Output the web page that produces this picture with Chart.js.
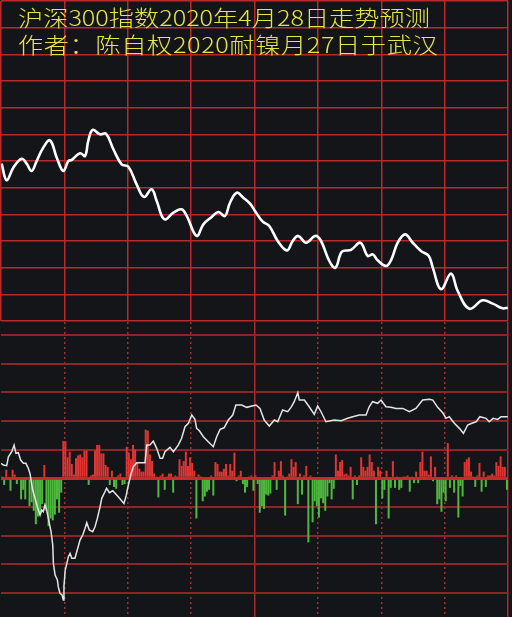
<!DOCTYPE html>
<html><head><meta charset="utf-8">
<script src="https://cdn.jsdelivr.net/npm/chart.js@4/dist/chart.umd.min.js"></script>
<style>
html,body{margin:0;padding:0;background:#141518;width:512px;height:617px;overflow:hidden}
#wrap{position:relative;width:512px;height:617px}
canvas{position:absolute;left:0}
#c1{top:0}
#c2{top:322px}
.title{position:absolute;left:18px;font-family:"Noto Sans CJK SC";font-weight:300;font-size:22px;line-height:26.7px;color:#e6e64a;white-space:nowrap;transform:scaleX(1.145);transform-origin:0 0}
</style></head><body>
<div id="wrap">
<canvas id="c1" width="512" height="322"></canvas>
<canvas id="c2" width="512" height="295"></canvas>
<div class="title" style="top:3px">沪深300指数2020年4月28日走势预测</div>
<div class="title" style="top:29.7px;letter-spacing:0.55px">作者：陈自权2020耐镍月27日于武汉</div>
</div>
<script>
// Upper panel: forecast index line (minutes from open, index level)
const upT = [0.3,2.7,5.8,9.8,12.2,14.5,16.9,20.0,23.2,26.4,29.5,31.9,33.5,37.4,39.8,41.3,43.4,46.9,49.7,53.2,57.1,60.3,64.2,67.7,71.3,73.7,77.3,81.6,85.5,87.9,92.6,95.8,99.7,102.9,106.0,108.4,111.6,114.7,117.9,120.7,123.9,127.0,131.0,135.3,138.1,140.7,144.4,148.8,151.5,155.4,158.3,161.4,165.7,170.1,173.6,176.0,178.3,182.3,184.6,187.8,191.3,194.9,198.8,202.5,204.4,208.3,213.0,216.2,221.7,228.0,232.8,237.5,239.9];
const upV = [3818.0,3805.5,3815.0,3821.7,3817.8,3812.5,3820.0,3830.0,3835.5,3822.5,3812.5,3820.0,3820.8,3825.8,3823.8,3835.0,3843.3,3840.0,3840.5,3828.8,3817.5,3815.7,3802.5,3793.0,3798.8,3790.0,3776.3,3781.2,3783.8,3778.8,3763.8,3772.5,3778.0,3781.8,3778.8,3788.7,3796.2,3792.5,3788.0,3781.4,3774.5,3771.3,3760.0,3753.0,3760.0,3763.8,3758.7,3763.8,3760.0,3745.0,3740.0,3752.0,3753.3,3758.7,3748.8,3750.0,3745.5,3741.3,3745.5,3758.7,3765.0,3758.7,3752.5,3748.8,3740.0,3723.8,3735.5,3722.5,3709.2,3715.5,3713.0,3709.5,3710.0];

// Lower panel: indicator line
const lowT = [0,1.1,2.7,3.5,5.1,6.2,7.1,8.2,9.3,10.6,11.8,12.9,13.7,14.1,15.0,16.1,17.2,18.5,19.3,20.0,20.8,21.6,22.9,23.7,24.5,24.8,25.6,26.7,27.1,27.9,28.9,29.5,29.8,30.4,31.1,31.9,32.7,33.5,35.0,36.1,37.4,38.7,39.8,40.6,41.8,43.4,44.5,45.6,46.9,47.7,49.2,50.0,51.3,52.9,55.5,58.2,59.2,60.3,61.4,62.6,64.2,65.8,68.2,69.0,70.5,72.1,73.7,75.3,76.5,77.6,80.0,81.6,83.9,85.5,87.1,88.7,90.3,91.8,92.6,93.9,95.8,98.1,100.5,102.1,103.7,105.6,107.6,109.7,111.2,113.9,116.3,118.9,120.7,122.6,124.6,127.0,129.4,131.0,133.3,135.7,137.3,138.8,140.5,141.2,143.6,145.9,148.3,149.9,151.5,153.8,157.8,161.0,164.1,166.5,169.6,172.8,174.3,175.9,178.3,179.9,182.2,184.6,187.0,190.2,193.3,196.4,199.6,202.8,204.4,206.7,209.1,210.7,212.2,214.6,217.0,218.9,220.9,222.9,224.9,226.7,229.6,231.1,233.0,235.1,236.7,239.9];
const lowV = [15.7,13.9,13.2,22.6,27.8,34.8,26.2,26.8,19.1,15.7,15.7,10.5,5.2,0,-12.2,-20.9,-29.7,-38.4,-33.2,-34.9,-27.9,-33.2,-47.1,-55.9,-69.8,-88.9,-101.2,-106.4,-113.4,-120.3,-122.1,-127.3,-112.7,-96.0,-89.7,-82.0,-78.5,-83.7,-83.7,-75.0,-64.6,-59.3,-52.3,-46.5,-54.1,-55.9,-50.6,-41.9,-29.7,-20.9,-14.0,-10.5,-15.1,-13.0,-19.3,-26.2,-18.5,-7.0,3.5,12.1,16.3,16.3,16.3,34.8,34.8,39.0,31.4,20.9,20.9,27.8,32.4,27.8,34.8,41.9,54.0,57.6,66.2,61.7,52.3,49.8,43.5,38.3,33.1,43.5,51.3,52.9,61.0,66.2,76.7,76.7,74.3,75.7,76.7,73.2,61.0,54.7,61.0,59.2,71.5,69.7,74.3,80.2,89.6,81.9,81.9,74.9,67.0,75.7,69.7,59.2,61.0,60.3,62.8,64.5,66.2,66.2,74.9,80.2,78.5,81.9,74.9,74.3,73.2,73.2,69.7,73.2,81.9,82.7,81.9,74.3,68.6,62.8,64.5,57.6,52.3,47.1,55.8,57.6,59.2,64.5,62.8,59.2,62.8,61.7,64.5,64.5];

// Lower panel: per-minute flow bars (positive red, negative green)
const flow = [
 2,-7,9,0,-13,9,4,-6,0,-22,-12,-22,0,-29,-25,-34,-48,-40,-38,-27,
 14,-34,-50,-42,-44,-38,-22,-36,-15,39,39,22,28,15,4,21,24,25,22,29,
 29,-7,3,4,29,35,35,26,26,14,12,-7,8,-9,-11,3,5,-7,-6,33,
 27,20,35,30,17,10,7,7,51,50,25,18,5,2,-20,3,5,-12,2,5,
 5,-15,3,2,20,13,18,28,13,22,16,8,-42,4,2,-24,-19,-14,-12,3,
 -18,17,15,7,7,10,15,3,15,8,27,-3,3,8,-6,-15,-9,2,3,-13,
 3,-6,-36,-29,-32,-17,-18,-16,3,17,-12,8,18,3,-39,2,5,20,12,17,
 -27,5,-17,3,13,-67,3,-46,-24,-29,-41,-21,-26,-34,-19,-5,-22,-11,25,8,
 17,19,4,5,3,12,-22,3,-7,3,22,12,8,12,25,17,8,-48,12,8,
 -21,-12,8,-42,-10,18,-10,2,-12,-10,2,2,3,-14,2,-5,7,-5,17,28,
 8,8,4,23,-3,12,-27,-22,-35,-15,-24,37,-10,3,-15,3,-41,-8,-19,17,
 20,22,7,2,-9,3,16,-14,7,-9,3,3,5,3,17,13,23,12,12,-12
];

const common = {responsive:false,animation:false,events:[],plugins:{legend:{display:false},tooltip:{enabled:false}}};

new Chart(document.getElementById('c1'), {
  type:'line',
  data:{datasets:[{data:upT.map((t,i)=>({x:t,y:upV[i]})),borderColor:'#ffffff',borderWidth:2.6,tension:0.4,pointRadius:0,fill:false}]},
  options:Object.assign({}, common, {
    layout:{padding:{top:1,bottom:1,left:1,right:4}},
    scales:{
      x:{type:'linear',min:0,max:240,ticks:{display:false,stepSize:30},border:{display:false},grid:{color:'#b82a2a',lineWidth:1.5,drawTicks:false}},
      y:{type:'linear',min:3700,max:3940,ticks:{display:false,stepSize:20},border:{display:false},grid:{color:'#b82a2a',lineWidth:1.5,drawTicks:false}}
    }
  })
});

new Chart(document.getElementById('c2'), {
  type:'bar',
  data:{datasets:[
    {type:'line',order:0,data:lowT.map((t,i)=>({x:t,y:lowV[i]})),borderColor:'#e4e4e4',borderWidth:1.5,tension:0,pointRadius:0,fill:false},
    {type:'bar',order:1,data:flow.map((v,i)=>({x:i+0.5,y:v})),
     backgroundColor:ctx=>(ctx.parsed && ctx.parsed.y<0)?'#4fb83f':'#e33434',
     barPercentage:1,categoryPercentage:0.95,borderWidth:0}
  ]},
  options:Object.assign({}, common, {
    layout:{padding:{top:0,bottom:0,left:1,right:4}},
    scales:{
      x:{type:'linear',min:0,max:240,offset:false,ticks:{display:false,stepSize:30},border:{display:false},
         grid:{offset:false,color:'#a82c2c',lineWidth:1.5,drawTicks:false},
         afterBuildTicks:s=>{s.ticks=[{value:120},{value:240}];}},
      x2:{type:'linear',position:'bottom',min:0,max:240,offset:false,ticks:{display:false,stepSize:30},border:{display:false,dash:[2,3]},
         grid:{offset:false,color:'#a03030',lineWidth:1.5,drawTicks:false},
         afterBuildTicks:s=>{s.ticks=[30,60,90,150,180,210].map(v=>({value:v}));}},
      y:{type:'linear',min:-145.1,max:163.6,ticks:{display:false,stepSize:30,includeBounds:false},border:{display:false},
         grid:{drawTicks:false,color:c=>c.tick.value===0?'#c62a2a':'#8c2626',lineWidth:c=>c.tick.value===0?3:2}}
    }
  })
});
</script>
</body></html>
